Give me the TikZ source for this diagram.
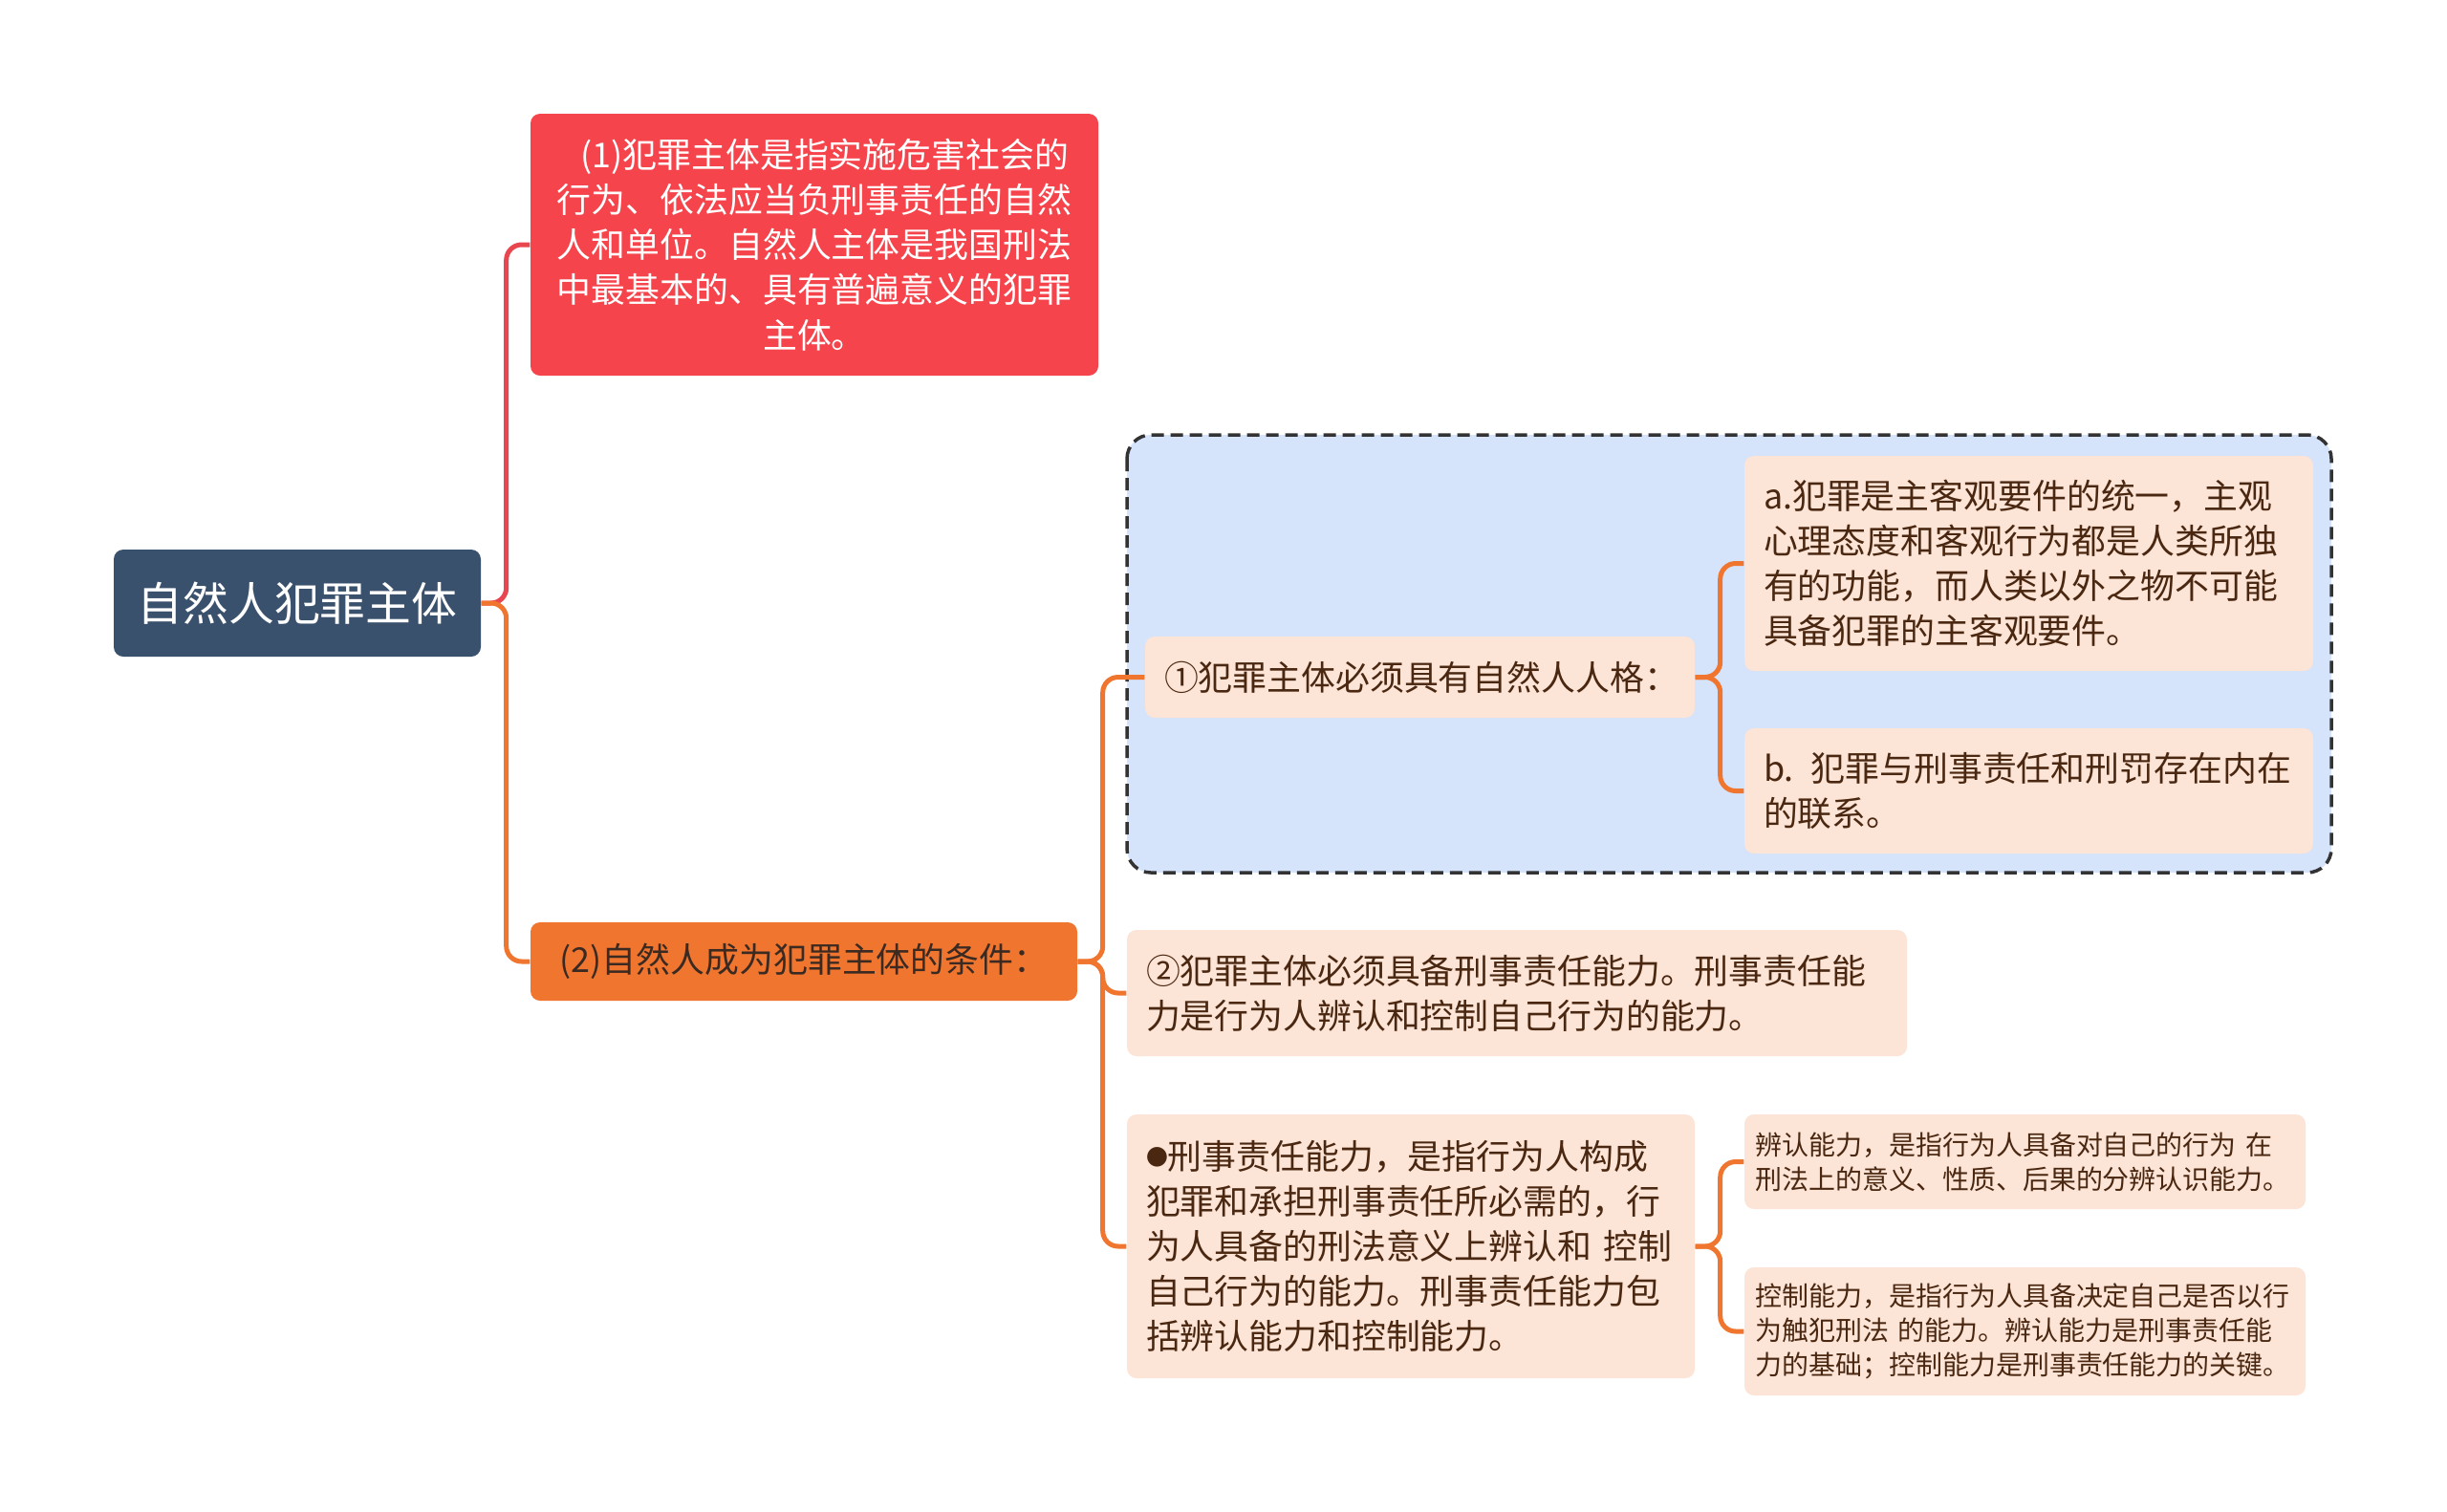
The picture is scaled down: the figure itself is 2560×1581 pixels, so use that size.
\documentclass[tikz,border=0pt]{standalone}
\usepackage{fontspec}
\setmainfont{Noto Sans CJK SC}
\definecolor{rootc}{HTML}{3A516D}
\definecolor{redc}{HTML}{F5444B}
\definecolor{redl}{HTML}{E9474F}
\definecolor{orac}{HTML}{F0762F}
\definecolor{peach}{HTML}{FCE4D6}
\definecolor{bluebg}{HTML}{D5E3FB}
\definecolor{brownt}{HTML}{4A2710}
\definecolor{darkt}{HTML}{3B2A22}
\tikzset{
  box/.style={rounded corners=10*0.01cm, inner ysep=0pt, inner xsep=20*0.01cm, anchor=center},
  peachbox/.style={box, fill=peach, text=brownt, align=left, font=\fontsize{10.2}{13.4}\selectfont},
  smallbox/.style={box, fill=peach, text=brownt, align=left, inner xsep=11.5*0.01cm, font=\fontsize{7.95}{10.3}\selectfont},
  conn/.style={line width=5*0.01cm, rounded corners=16*0.01cm},
}
\newcommand{\smallbullet}{{\fontsize{6.5}{6.5}\selectfont\raisebox{0.35ex}{●}}}
\begin{document}
\begin{tikzpicture}[x=0.01cm,y=-0.01cm]
\useasboundingbox[fill=white] (0,0) rectangle (2560,1581);
% dashed group
\draw[fill=bluebg, draw=black!80, line width=3.5*0.01cm, dash pattern=on 13*0.01cm off 7*0.01cm, rounded corners=25*0.01cm] (1179,455) rectangle (2439,913);
% nodes
\node[box, fill=rootc, text=white, minimum width=384*0.01cm, minimum height=112*0.01cm, font=\fontsize{13.6}{16}\selectfont] (root) at (311,631) {自然人犯罪主体};
\node[box, fill=redc, text=white, align=center, text width=554*0.01cm, minimum height=274*0.01cm, font=\fontsize{10.2}{13.4}\selectfont] (red) at (852,256) {\hspace*{0.6em}(1)犯罪主体是指实施危害社会的\\行为、依法应当负刑事责任的自然\\人和单位。自然人主体是我国刑法\\中最基本的、具有普遍意义的犯罪\\主体。};
\node[box, fill=orac, text=darkt, minimum width=572*0.01cm, minimum height=82*0.01cm, font=\fontsize{10.2}{13.4}\selectfont] (ora) at (841,1006) {(2)自然人成为犯罪主体的条件：};
\node[peachbox, text width=535*0.01cm, minimum height=85*0.01cm] (c1) at (1485.5,708.5) {①犯罪主体必须具有自然人人格：};
\node[peachbox, text width=555*0.01cm, minimum height=225*0.01cm] (ca) at (2122.5,589.5) {a.犯罪是主客观要件的统一，主观\\心理态度和客观行为都是人类所独\\有的功能，而人类以外之物不可能\\具备犯罪的主客观要件。};
\node[peachbox, text width=555*0.01cm, minimum height=131*0.01cm] (cb) at (2122.5,827.5) {b. 犯罪与刑事责任和刑罚存在内在\\的联系。};
\node[peachbox, text width=776*0.01cm, minimum height=132*0.01cm] (c2) at (1587,1039) {②犯罪主体必须具备刑事责任能力。刑事责任能\\力是行为人辨认和控制自己行为的能力。};
\node[peachbox, text width=554*0.01cm, minimum height=276*0.01cm] (c3) at (1476,1304) {\smallbullet 刑事责任能力，是指行为人构成\\犯罪和承担刑事责任所必需的，行\\为人具备的刑法意义上辨认和 控制\\自己行为的能力。刑事责任能力包\\括辨认能力和控制能力。};
\node[smallbox, text width=564*0.01cm, minimum height=99*0.01cm] (cc) at (2118.5,1215.5) {辨认能力，是指行为人具备对自己的行为 在\\刑法上的意义、性质、后果的分辨认识能力。};
\node[smallbox, text width=564*0.01cm, minimum height=134*0.01cm] (cd) at (2118.5,1393) {控制能力，是指行为人具备决定自己是否以行\\为触犯刑法 的能力。辨认能力是刑事责任能\\力的基础；控制能力是刑事责任能力的关键。};
% connectors
\draw[conn, draw=redl] (root.east) -- ++(26,0) |- (red.west);
\draw[conn, draw=orac] (root.east) -- ++(26,0) |- (ora.west);
\draw[conn, draw=orac] (ora.east) -- ++(26,0) |- (c1.west);
\draw[conn, draw=orac] (ora.east) -- ++(26,0) |- (c2.west);
\draw[conn, draw=orac] (ora.east) -- ++(26,0) |- (c3.west);
\draw[conn, draw=orac] (c1.east) -- ++(26,0) |- (ca.west);
\draw[conn, draw=orac] (c1.east) -- ++(26,0) |- (cb.west);
\draw[conn, draw=orac] (c3.east) -- ++(26,0) |- (cc.west);
\draw[conn, draw=orac] (c3.east) -- ++(26,0) |- (cd.west);
\end{tikzpicture}
\end{document}
